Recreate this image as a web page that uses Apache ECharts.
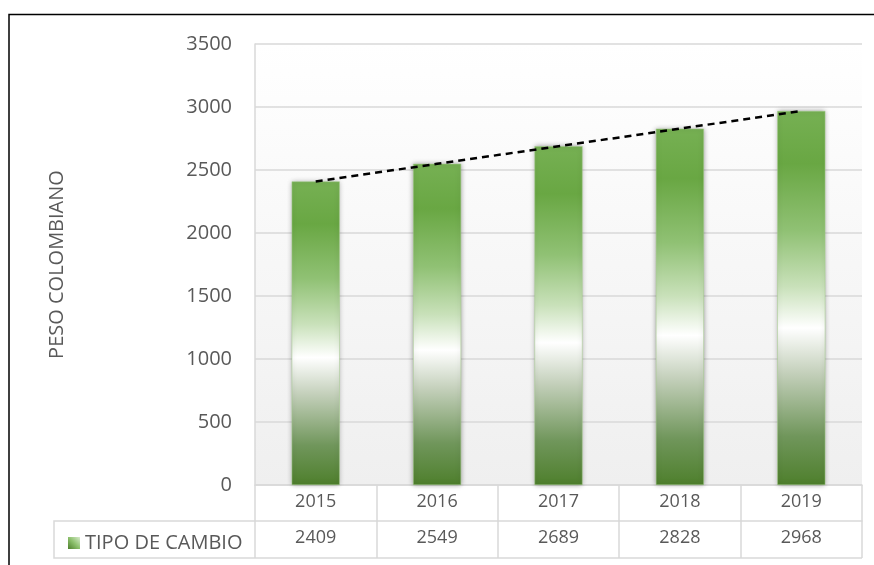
<!DOCTYPE html>
<html>
<head>
<meta charset="utf-8">
<script src="https://cdn.jsdelivr.net/npm/echarts@6/dist/echarts.min.js"></script>
<style>
  html, body { margin: 0; padding: 0; background: #fff; }
  #main { width: 874px; height: 565px; }
</style>
</head>
<body>
<div id="main"></div>
<script>
// datos
var years = ['2015', '2016', '2017', '2018', '2019'];
var tipoCambio = [2409, 2549, 2689, 2828, 2968];
var yTicks = { min: 0, max: 3500, interval: 500 };

// linea de tendencia (regresion lineal de los datos)
var n = tipoCambio.length, sx = 0, sy = 0, sxy = 0, sxx = 0;
tipoCambio.forEach(function (v, i) { sx += i; sy += v; sxy += i * v; sxx += i * i; });
var slope = (n * sxy - sx * sy) / (n * sxx - sx * sx);
var icpt = (sy - slope * sx) / n;
var trend = tipoCambio.map(function (v, i) { return +(icpt + slope * i).toFixed(1); });

var txt = '#595959', grid = '#d9d9d9', font = 'Open Sans';

var barColor = new echarts.graphic.LinearGradient(0, 0, 0, 1, [
  { offset: 0, color: '#76b053' },
  { offset: 0.14, color: '#69a743' },
  { offset: 0.32, color: '#90c174' },
  { offset: 0.47, color: '#c9e1ba' },
  { offset: 0.58, color: '#ffffff' },
  { offset: 0.7, color: '#c4d0bb' },
  { offset: 0.87, color: '#70965b' },
  { offset: 1, color: '#4e7f2c' }
]);

// icono de la leyenda
var iconColor = new echarts.graphic.LinearGradient(1, 0, 0, 1, [
  { offset: 0, color: '#d8ebcc' },
  { offset: 0.5, color: '#8cc06c' },
  { offset: 1, color: '#4e7f2c' }
]);

var chart = echarts.init(document.getElementById('main'));
chart.setOption({
  animation: false,
  grid: {
    left: 255, right: 12, top: 44, bottom: 80,
    show: true, borderWidth: 0,
    backgroundColor: new echarts.graphic.LinearGradient(0, 0, 0, 1, [
      { offset: 0, color: '#ffffff' },
      { offset: 1, color: '#efefef' }
    ])
  },
  legend: {
    data: [{ name: 'TIPO DE CAMBIO', itemStyle: { color: iconColor, borderWidth: 0 } }],
    left: 63, top: 528,
    icon: 'rect', itemWidth: 12, itemHeight: 12, itemGap: 6,
    textStyle: { color: txt, fontFamily: font, fontSize: 20 }
  },
  xAxis: [{
    type: 'category', data: years, position: 'bottom',
    axisLine: { show: true, lineStyle: { color: grid, width: 1.5 } },
    axisTick: { show: true, interval: 0, length: 36, lineStyle: { color: grid, width: 1.5 } },
    axisLabel: { color: txt, fontFamily: font, fontSize: 18, margin: 8 }
  }, {
    // fila de valores de la tabla
    type: 'category', data: tipoCambio.map(String), position: 'bottom', offset: 36,
    axisLine: { show: true, lineStyle: { color: grid, width: 1.5 } },
    axisTick: { show: true, interval: 0, length: 37, lineStyle: { color: grid, width: 1.5 } },
    axisLabel: { color: txt, fontFamily: font, fontSize: 18, margin: 8 }
  }],
  yAxis: {
    type: 'value', min: yTicks.min, max: yTicks.max, interval: yTicks.interval,
    name: 'PESO COLOMBIANO', nameLocation: 'middle', nameRotate: 90, nameGap: 188,
    nameTextStyle: { color: txt, fontFamily: font, fontSize: 20 },
    axisLine: { show: true, lineStyle: { color: grid, width: 1.5 } },
    axisTick: { show: false },
    axisLabel: {
      color: txt, fontFamily: font, fontSize: 20, margin: 23,
      formatter: function (v) { return String(v); }
    },
    splitLine: { lineStyle: { color: grid, width: 1.5 } }
  },
  series: [{
    name: 'TIPO DE CAMBIO', type: 'bar', data: tipoCambio, barWidth: 48,
    itemStyle: {
      color: barColor, borderColor: '#a3cc88', borderWidth: 0.5,
      shadowBlur: 5, shadowColor: 'rgba(0,0,0,0.35)'
    }
  }, {
    name: 'trend', type: 'line', data: trend, symbol: 'none', z: 5,
    lineStyle: { color: '#000', width: 2.5, type: [7, 5] }
  }],
  graphic: [
    // marco exterior
    { type: 'polyline', shape: { points: [[9, 565], [9, 14.5], [874, 14.5]] },
      style: { stroke: '#000', lineWidth: 1.5, fill: null } },
    // celda de la leyenda y borde inferior de la tabla
    { type: 'polyline', shape: { points: [[255, 521], [54, 521], [54, 558], [862, 558]] },
      style: { stroke: grid, lineWidth: 1.5, fill: null } }
  ]
});
</script>
</body>
</html>
